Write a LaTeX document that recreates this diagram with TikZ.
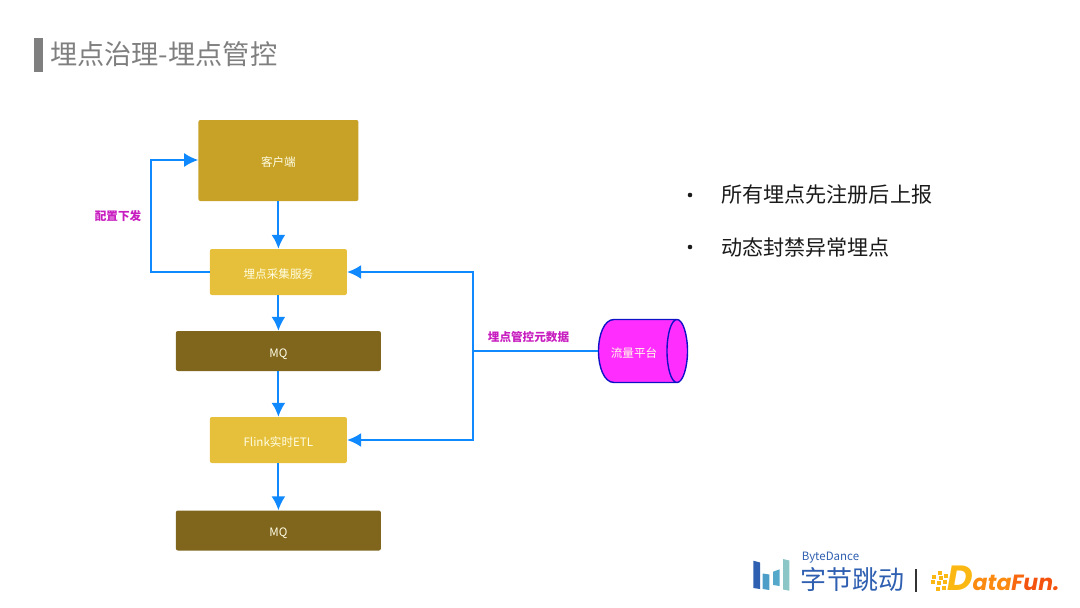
\documentclass[tikz,border=0pt]{standalone}
\usepackage{fontspec}
\setmainfont{Noto Sans CJK SC}
\newfontfamily\logofont{Poppins}
\usepackage{xcolor}
\usetikzlibrary{positioning,arrows.meta}
\definecolor{flowblue}{HTML}{1089FF}
\definecolor{clientgold}{HTML}{C8A227}
\definecolor{stepyellow}{HTML}{E6C03A}
\definecolor{mqbrown}{HTML}{80651D}
\definecolor{labelpink}{HTML}{C81EC0}
\definecolor{cylpink}{HTML}{FF2EFF}
\definecolor{cylblue}{HTML}{1010C8}
\definecolor{titlegrey}{HTML}{7F7F7F}
\definecolor{bodyink}{HTML}{1A1A1A}
\definecolor{logoblue}{HTML}{2F5FB0}
\definecolor{logoamber}{HTML}{FBB812}
\definecolor{logoorange}{HTML}{FB8A10}
\definecolor{logored}{HTML}{F4520F}
\tikzset{
  block/.style={rounded corners=2pt, text=white!90!yellow, font=\fontsize{11.6}{13}\selectfont, inner sep=0pt, text height=13pt, text depth=1pt},
  flow/.style={draw=flowblue, line width=2pt, -{Latex[length=14pt,width=14pt]}},
  flowline/.style={draw=flowblue, line width=2pt},
  edgelabel/.style={text=labelpink, font=\bfseries\fontsize{11.6}{13}\selectfont},
  bullet/.style={text=bodyink, anchor=west, font=\fontsize{21.1}{24}\selectfont},
}
\begin{document}
\begin{tikzpicture}[x=1pt, y=-1pt]
        \useasboundingbox (0,0) rectangle (1080,608);
        % title
        \fill[titlegrey] (34,38) rectangle (43,72);
        \node[anchor=west, text=titlegrey, font=\fontsize{27.2}{30}\selectfont, inner sep=0pt] (title) at (50,54) {埋点治理-埋点管控};
        % blocks
        \node[block, fill=clientgold, minimum width=160pt, minimum height=81pt] (client) at (278.4,160.5) {客户端};
        \node[block, fill=stepyellow, minimum width=137pt, minimum height=46pt] (collect) at (278.4,272) {埋点采集服务};
        \node[block, fill=mqbrown, minimum width=205pt, minimum height=40pt] (mqa) at (278.4,351) {MQ};
        \node[block, fill=stepyellow, minimum width=137pt, minimum height=46pt] (flink) at (278.4,440) {Flink实时ETL};
        \node[block, fill=mqbrown, minimum width=205pt, minimum height=40pt] (mqb) at (278.4,530.5) {MQ};
        % cylinder
        \draw[cylblue, line width=1.4pt, fill=cylpink] (677,319.5) -- (614,319.5) .. controls (604,319.5) and (598.5,335) .. (598.5,351) .. controls (598.5,367) and (604,382.5) .. (614,382.5) -- (677,382.5) .. controls (683,382.5) and (687.5,367) .. (687.5,351) .. controls (687.5,335) and (683,319.5) .. (677,319.5) .. controls (671,319.5) and (667,335) .. (667,351) .. controls (667,367) and (671,382.5) .. (677,382.5);
        \node[text=white!90!yellow, font=\fontsize{11.6}{13}\selectfont, inner sep=0pt, minimum width=89pt, minimum height=63pt, text height=13pt, text depth=1pt, xshift=-9pt] (platform) at (643,351) {流量平台};
        % arrows
        \draw[flow] (client) -- (collect);
        \draw[flow] (collect) -- (mqa);
        \draw[flow] (mqa) -- (flink);
        \draw[flow] (flink) -- (mqb);
        \coordinate (upleft) at (151,272);
        \coordinate (topleft) at (151,160);
        \draw[flow] (collect.west) -- (upleft) -- (topleft) -- (client.west |- topleft);
        \coordinate (junction) at (473,351);
        \coordinate (juptop) at (473,272);
        \coordinate (jupbot) at (473,440);
        \coordinate (platformin) at (598,351);
        \draw[flowline] (platformin) -- (junction);
        \draw[flow] (junction) -- (juptop) -- (collect.east |- juptop);
        \draw[flow] (junction) -- (jupbot) -- (flink.east |- jupbot);
        % labels
        \node[edgelabel] (config) at (118,216) {配置下发};
        \node[edgelabel] (meta) at (528.5,337) {埋点管控元数据};
        % right text
        \foreach \y/\name/\txt in {195/one/所有埋点先注册后上报, 247/two/动态封禁异常埋点}{
          \node[bullet, inner sep=0pt] (\name) at (721,\y) {\txt};
          \fill[bodyink] (690,\y) circle[radius=2.3pt];
        }
        % logo, bars
        \fill[logoblue] (753.3,560.7) -- (760,562.5) -- (760,589) -- (753.3,588) -- cycle;
        \fill[blue!35!cyan!70!black!70] (762.7,573.5) -- (769.3,574.5) -- (769.3,590) -- (762.7,589) -- cycle;
        \fill[cyan!75!black!80] (773,571.7) -- (779.7,569.3) -- (779.7,586) -- (773,585) -- cycle;
        \fill[teal!45] (783,559) -- (789.3,560.5) -- (789.3,590.7) -- (783,589.5) -- cycle;
        \node[text=logoblue, font=\fontsize{11.5}{13}\selectfont, inner sep=0pt] (bytedance) at (830.5,557.5) {ByteDance};
        \node[text=logoblue, font=\fontsize{26}{28}\selectfont, inner sep=0pt] (zijie) at (852.5,579.5) {字节跳动};
        \fill[black!80] (915,569) rectangle (916.7,592);
        \foreach \px/\py in {938/570.5, 932/574.5, 939/575.5, 944/574, 931/580, 937/581, 943/580, 936/586.5, 942/586}{
          \fill[logoamber] (\px,\py) rectangle ++(4,4);
        }
        \node[anchor=base west, text=logoorange, font=\logofont\bfseries\itshape\fontsize{22}{26}\selectfont, inner sep=0pt] (datafun) at (947,590) {\textcolor{logoamber}{\fontsize{35}{38}\selectfont D}ata\textcolor{logored!60!logoorange}{F}\textcolor{logored}{un.}};
    \end{tikzpicture}
\end{document}
